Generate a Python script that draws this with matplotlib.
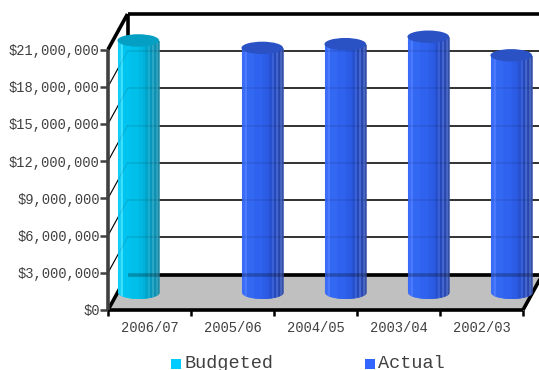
import numpy as np
import matplotlib
matplotlib.use('Agg')
import matplotlib.pyplot as plt
from matplotlib.patches import Ellipse, Polygon, Rectangle

categories = ['2006/07', '2005/06', '2004/05', '2003/04', '2002/03']
budgeted = [20300000, None, None, None, None]
actual = [None, 19700000, 20000000, 20600000, 19100000]
y_ticks = [0, 3000000, 6000000, 9000000, 12000000, 15000000, 18000000, 21000000]

W, H = 539, 370
# front plane of the box, in pixels
LEFT, RIGHT, BOTTOM, TOP = 108, 523, 310, 49.5
DEPTH_X, DEPTH_Y = 19.5, 35.5

CYAN_BANDS = ['#12cdf5', '#40e0ff', '#00c4f0', '#00bfe9', '#00b8e2', '#00b0d9', '#00a4ca',
              '#1cadd0', '#0797ba', '#2aa8c6', '#0c8fb0', '#35a2bd', '#1f8aa6']
BLUE_BANDS = ['#3a6cf7', '#4b7cff', '#3368f3', '#2f62ee', '#2c5de7', '#2b59df', '#2750cf',
              '#3a62d6', '#2649b9', '#4566ce', '#2847ae', '#4c6bc6', '#3650a4']
# band edges across the cylinder, left side to right side
BAND_EDGES = [0, 0.07, 0.12, 0.3, 0.5, 0.6, 0.66, 0.72, 0.77, 0.82, 0.87, 0.92, 0.96, 1.0]

fig = plt.figure(figsize=(W / 100, H / 100), dpi=100)
ax = fig.add_axes([LEFT / W, 1 - BOTTOM / H, (RIGHT - LEFT) / W, (BOTTOM - TOP) / H])
ax.set_xlim(0, len(categories))
ax.set_ylim(0, y_ticks[-1])
ax.patch.set_visible(False)

# size of one pixel in data units
px = len(categories) / (RIGHT - LEFT)
py = y_ticks[-1] / (BOTTOM - TOP)
dx, dy = DEPTH_X * px, DEPTH_Y * py
y_max = y_ticks[-1]
n = len(categories)

# floor
ax.add_patch(Polygon([(0, 0), (n, 0), (n + dx, dy), (dx, dy)], closed=True,
                     facecolor='#c0c0c0', edgecolor='none', clip_on=False, zorder=1))


def wall_lines(zorder, alpha):
    # grid on the back wall and the side wall
    for t in y_ticks[1:-1]:
        ax.plot([dx, n + 2 * dx], [t + dy, t + dy], color='black', lw=1.1, alpha=alpha,
                clip_on=False, zorder=zorder)
        ax.plot([0, dx], [t, t + dy], color='black', lw=0.8, alpha=alpha, clip_on=False, zorder=zorder)


wall_lines(1.5, 1)

# box edges
edge = dict(color='black', lw=2.6, clip_on=False, zorder=2, solid_capstyle='butt')
ax.plot([dx, n + 2 * dx], [y_max + dy, y_max + dy], **edge)
ax.plot([dx, dx], [dy, y_max + dy], **edge)
ax.plot([dx, n + 2 * dx], [dy, dy], **edge)
ax.plot([0, dx], [y_max, y_max + dy], **edge)
ax.plot([0, dx], [0, dy], **edge)
ax.plot([n, n + dx], [0, dy], **edge)


def cylinder(xc, value, bands, top_color):
    half = 20.8 * px
    ry = 6.2 * py
    base = dy / 2
    zo = 3
    for i, c in enumerate(bands):
        x0 = xc - half + 2 * half * BAND_EDGES[i]
        # bands are painted left to right, running each one under the next hides the seams
        x1 = xc - half + 2 * half * BAND_EDGES[min(i + 2, len(bands))]
        xb = np.linspace(x0, x1, 14)
        curve = ry * np.sqrt(np.clip(1 - ((xb - xc) / half) ** 2, 0, 1))
        ax.fill_between(xb, base - curve, base + value, color=c, lw=0, clip_on=False, zorder=zo)
    ax.add_patch(Ellipse((xc, base + value), 2 * half, 2 * ry, facecolor=top_color,
                         edgecolor='none', clip_on=False, zorder=zo + 1))


for i in range(n):
    center = i + 0.5 + dx / 2
    if budgeted[i] is not None:
        cylinder(center - 21 * px, budgeted[i], CYAN_BANDS, '#049fc3')
    if actual[i] is not None:
        cylinder(center + 20 * px, actual[i], BLUE_BANDS, '#2a52c4')

# the cylinders are slightly see-through, so the lines behind them still show
wall_lines(3.5, 0.1)
ax.plot([dx, n + 2 * dx], [dy, dy], color='black', lw=2.6, alpha=0.25, clip_on=False, zorder=3.5,
        solid_capstyle='butt')

# front axes
ax.plot([0, n], [0, 0], color='black', lw=2.6, clip_on=False, zorder=5, solid_capstyle='butt')
ax.plot([0, 0], [0, y_max], color='#404040', lw=2.6, clip_on=False, zorder=5, solid_capstyle='butt')

for s in ax.spines.values():
    s.set_visible(False)

ax.set_yticks(y_ticks)
ax.set_yticklabels(['${:,}'.format(t) for t in y_ticks], family='Liberation Mono', fontsize=9.9,
                   color='#404040')
ax.set_xticks(np.arange(n + 1))
ax.set_xticklabels([])
ax.tick_params(axis='y', length=5.5, width=1.8, color='#404040', pad=0.5)
ax.tick_params(axis='x', length=4.5, width=1.8, color='black')
for i, c in enumerate(categories):
    ax.annotate(c, (i + 0.5, 0), xytext=(0, -18), textcoords='offset pixels', ha='center', va='center',
                family='Liberation Mono', fontsize=9.9, color='#404040', annotation_clip=False)

# legend
for x0, label, color in [(171, 'Budgeted', '#00ccff'), (365, 'Actual', '#3366ff')]:
    fig.add_artist(Rectangle((x0 / W, 1 - 369 / H), 10 / W, 10 / H, transform=fig.transFigure,
                             facecolor=color, edgecolor='none'))
    fig.text((x0 + 13) / W, 1 - 363 / H, label, family='Liberation Mono', fontsize=13.3,
             color='#404040', ha='left', va='center')

fig.savefig('out.png', dpi=100)
